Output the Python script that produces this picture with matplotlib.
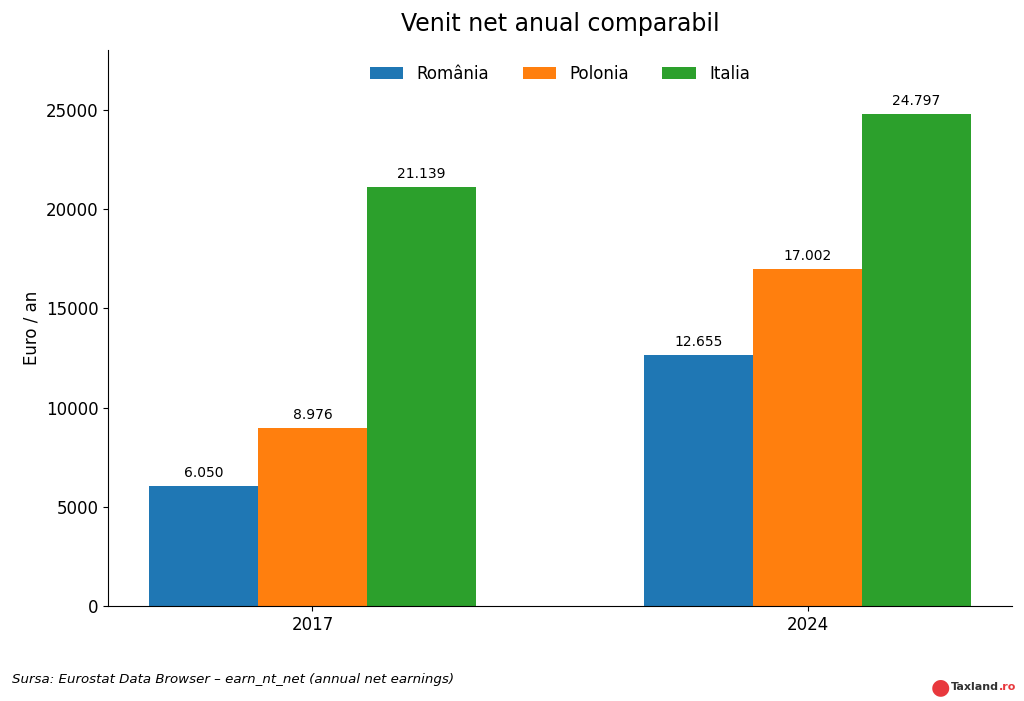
import matplotlib
matplotlib.use("Agg")
import matplotlib.pyplot as plt
import numpy as np

years = ["2017", "2024"]
countries = ["România", "Polonia", "Italia"]
romania = [6050, 12655]
polonia = [8976, 17002]
italia = [21139, 24797]
colors = ["#1f77b4", "#ff7f0e", "#2ca02c"]

series = [romania, polonia, italia]

fig = plt.figure(figsize=(10.24, 7.01), dpi=100)
ax = fig.add_axes([108/1024, 1-606/701, (1012-108)/1024, (606-50)/701])

x = np.arange(len(years))
w = 0.22
for i, (name, vals, c) in enumerate(zip(countries, series, colors)):
    bars = ax.bar(x + (i - 1) * w, vals, w, label=name, color=c)
    for b, v in zip(bars, vals):
        ax.annotate(f"{v:,}".replace(",", "."), (b.get_x() + b.get_width() / 2, v),
                    xytext=(0, 4), textcoords="offset points", ha="center", va="bottom",
                    fontsize=10)

ax.set_xticks(x)
ax.set_xticklabels(years, fontsize=12)
ax.tick_params(axis="y", labelsize=12)
ax.set_ylim(0, max(italia) * 1.13)
ax.set_ylabel("Euro / an", fontsize=12)
ax.spines["top"].set_visible(False)
ax.spines["right"].set_visible(False)
ax.legend(loc="upper center", ncol=3, frameon=False, fontsize=12)
ax.set_title("Venit net anual comparabil", fontsize=17, pad=14)
fig.text(12/1024, 1 - 680/701, "Sursa: Eurostat Data Browser – earn_nt_net (annual net earnings)",
         ha="left", va="center", fontsize=9.6, style="italic")
fig.text(940/1024, 1 - 687/701, "\u25CF", color="#e8383d", ha="center", va="center", fontsize=16)
t = fig.text(951/1024, 1 - 687/701, "Taxland", color="#333333", ha="left", va="center",
             fontsize=8, fontweight="bold")
ax.annotate(".ro", xy=(1, 0.5), xycoords=t, ha="left", va="center", color="#e8383d",
            fontsize=8, fontweight="bold", annotation_clip=False)
fig.savefig("out.png", dpi=100)
